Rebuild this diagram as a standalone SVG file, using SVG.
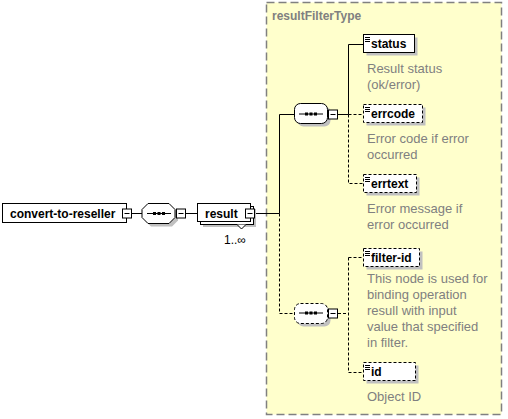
<svg xmlns="http://www.w3.org/2000/svg" width="508" height="419" viewBox="0 0 508 419">
<style>
.box{fill:#fff;stroke:#000;stroke-width:1}
.dash{stroke-dasharray:3,2}
.sh{fill:#c0c0c0}
.lbl{font-family:"Liberation Sans",Arial,sans-serif;font-size:12px;font-weight:bold;fill:#000}
.desc{font-family:"Liberation Sans",Arial,sans-serif;font-size:13px;fill:#808080}
.ln{stroke:#000;stroke-width:1;fill:none}
.mb{fill:#fff;stroke:#000;stroke-width:1}
</style>
<defs>
<g id="icon"><path d="M2,3.5h5M2,5.5h5M2,7.5h5" stroke="#000" stroke-width="1"/></g>
<g id="seqsym"><path d="M5,10h24" stroke="#000" stroke-width="1"/><rect x="11" y="8.5" width="3" height="3" fill="#000"/><rect x="15.5" y="8.5" width="3" height="3" fill="#000"/><rect x="20" y="8.5" width="3" height="3" fill="#000"/></g>
<g id="minus"><rect x="0" y="0" width="9" height="9" class="mb"/><path d="M2,4.5h5" stroke="#000"/></g>
</defs>

<g id="resultFilterType">
<rect x="266.5" y="2.5" width="235" height="412" fill="#FFFFCC" stroke="#808080" stroke-width="1.5" stroke-dasharray="8,4"/>
<text x="272" y="20" class="lbl" fill="#808080" style="fill:#808080">resultFilterType</text>
</g>

<g id="connectors">
<path class="ln" d="M131,213.5H142"/>
<path class="ln" d="M185,213.5H197"/>
<path class="ln" d="M254,213.5H279.5V114.5H294"/>
<path class="ln dash" d="M279.5,213.5V313.5H294"/>
<path class="ln" d="M338,114.5H348.5V44.5H363"/>
<path class="ln dash" d="M348.5,114.5H363M348.5,114.5V183.5H363"/>
<path class="ln dash" d="M338,313.5H348.5M348.5,257.5V372.5M348.5,257.5H363M348.5,372.5H363"/>
</g>

<g id="convert-to-reseller">
<rect x="2.5" y="203.5" width="124" height="19" class="box"/>
<text x="10" y="217.5" class="lbl">convert-to-reseller</text>
<use href="#minus" x="122.5" y="209"/>
</g>

<g id="seq-main">
<path d="M151,206.5h21l6,6v8l-6,6h-21l-6,-6v-8z" class="sh"/>
<path d="M148,203.5h21l6,6v8l-6,6h-21l-6,-6v-8z" class="box"/>
<use href="#seqsym" x="142" y="203.5"/>
<use href="#minus" x="176.5" y="209"/>
</g>

<g id="result">
<rect x="203" y="209" width="53" height="18" class="sh"/>
<rect x="200.5" y="206.5" width="53" height="18" class="box"/>
<rect x="197.5" y="203.5" width="53" height="18" class="box"/>
<text x="205" y="217.5" class="lbl">result</text>
<use href="#minus" x="245.5" y="209"/>
<path d="M237,224.5L241.5,229L246,224.5" fill="#fff" stroke="#000"/>
<text x="224" y="244" font-family="Liberation Sans,Arial,sans-serif" font-size="12" fill="#000">1..∞</text>
</g>

<g id="seq-1">
<rect x="297.5" y="106.5" width="33" height="20" rx="6" class="sh"/>
<rect x="294.5" y="103.5" width="33" height="20" rx="6" class="box"/>
<use href="#seqsym" x="294" y="104"/>
<use href="#minus" x="328.5" y="110"/>
</g>

<g id="seq-2">
<rect x="297.5" y="306.5" width="33" height="20" rx="6" class="sh"/>
<rect x="294.5" y="303.5" width="33" height="20" rx="6" class="box dash"/>
<use href="#seqsym" x="294" y="303"/>
<use href="#minus" x="328.5" y="309"/>
</g>

<g id="status">
<rect x="366.5" y="37.5" width="51" height="18" class="sh"/>
<rect x="363.5" y="34.5" width="51" height="18" class="box"/>
<use href="#icon" x="363" y="34"/>
<text x="371" y="48" class="lbl">status</text>
<text x="367" y="73" class="desc">Result status</text>
<text x="367" y="89" class="desc">(ok/error)</text>
</g>

<g id="errcode">
<rect x="366.5" y="107.5" width="59" height="18" class="sh"/>
<rect x="363.5" y="104.5" width="59" height="18" class="box dash"/>
<use href="#icon" x="363" y="104"/>
<text x="371" y="118" class="lbl">errcode</text>
<text x="367" y="143" class="desc">Error code if error</text>
<text x="367" y="159" class="desc">occurred</text>
</g>

<g id="errtext">
<rect x="366.5" y="177.5" width="53" height="18" class="sh"/>
<rect x="363.5" y="174.5" width="53" height="18" class="box dash"/>
<use href="#icon" x="363" y="174"/>
<text x="371" y="188" class="lbl">errtext</text>
<text x="367" y="213" class="desc">Error message if</text>
<text x="367" y="229" class="desc">error occurred</text>
</g>

<g id="filter-id">
<rect x="366.5" y="251.5" width="56" height="18" class="sh"/>
<rect x="363.5" y="248.5" width="56" height="18" class="box dash"/>
<use href="#icon" x="363" y="248"/>
<text x="371" y="262" class="lbl">filter-id</text>
<text x="367" y="283" class="desc">This node is used for</text>
<text x="367" y="299" class="desc">binding operation</text>
<text x="367" y="315" class="desc">resull with input</text>
<text x="367" y="331" class="desc">value that specified</text>
<text x="367" y="347" class="desc">in filter.</text>
</g>

<g id="id">
<rect x="366.5" y="365.5" width="52" height="18" class="sh"/>
<rect x="363.5" y="362.5" width="52" height="18" class="box dash"/>
<use href="#icon" x="363" y="362"/>
<text x="371" y="376" class="lbl">id</text>
<text x="367" y="401" class="desc">Object ID</text>
</g>
</svg>
